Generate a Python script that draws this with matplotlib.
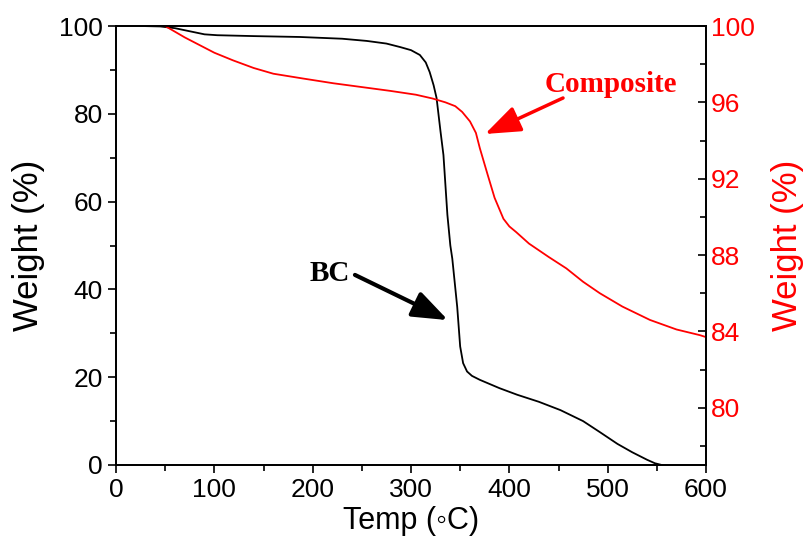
import matplotlib.pyplot as plt
from matplotlib.ticker import MultipleLocator

plt.rcParams['font.family'] = ['Liberation Sans', 'DejaVu Sans']

# BC curve (left axis)
bc_temp = [25, 45, 60, 75, 90, 103, 140, 187, 230, 255, 275, 289, 300, 309, 315, 319, 323,
           326, 330, 333, 337, 340, 342, 347, 350, 353, 357, 362, 370, 390, 408, 430, 452,
           475, 492, 510, 525, 540, 548, 555]
bc_weight = [100, 99.9, 99.5, 98.8, 98.1, 97.9, 97.7, 97.5, 97.1, 96.6, 96.0, 95.2, 94.5,
             93.4, 91.7, 89.5, 86.5, 83.6, 76, 70.6, 57, 50, 47, 36, 27, 23.2, 21.3, 20.3,
             19.4, 17.5, 16, 14.4, 12.5, 10, 7.5, 4.8, 2.9, 1.2, 0.4, 0]

# Composite curve (right axis)
comp_temp = [50, 60, 70, 85, 100, 119, 140, 160, 190, 221, 250, 279, 305, 322, 335, 345,
             352, 360, 366, 370, 374, 378, 385, 394, 400, 407, 420, 440, 458, 475, 492,
             515, 543, 570, 594, 600]
comp_weight = [100, 99.7, 99.4, 99.0, 98.6, 98.2, 97.8, 97.5, 97.25, 97.0, 96.8, 96.6, 96.4,
               96.2, 96.0, 95.8, 95.5, 95.0, 94.4, 93.6, 92.9, 92.2, 91.0, 89.9, 89.5,
               89.2, 88.6, 87.9, 87.3, 86.6, 86.0, 85.3, 84.6, 84.1, 83.8, 83.7]

fig = plt.figure(figsize=(8.04, 5.52), dpi=100)
ax = fig.add_axes([116 / 804, 87 / 552, 590 / 804, 439 / 552])
ax.plot(bc_temp, bc_weight, color='black', lw=1.3)
ax.set_xlim(0, 600)
ax.set_ylim(0, 100)
ax.xaxis.set_major_locator(MultipleLocator(100))
ax.xaxis.set_minor_locator(MultipleLocator(50))
ax.yaxis.set_major_locator(MultipleLocator(20))
ax.yaxis.set_minor_locator(MultipleLocator(10))
ax.tick_params(which='both', direction='out', width=1.2, labelsize=19)
ax.tick_params(which='major', length=6)
ax.tick_params(which='minor', length=4)
for s in ax.spines.values():
    s.set_linewidth(1.3)
ax.set_xlabel('Temp (\u25e6C)', fontsize=22, labelpad=3)
ax.set_ylabel('Weight (%)', fontsize=25, labelpad=10)

ax2 = ax.twinx()
ax2.plot(comp_temp, comp_weight, color='red', lw=1.3)
ax2.set_ylim(77, 100)
ax2.yaxis.set_major_locator(MultipleLocator(4))
ax2.yaxis.set_minor_locator(MultipleLocator(2))
ax2.tick_params(which='both', direction='in', width=1.2, labelsize=19, labelcolor='red')
ax2.tick_params(which='major', length=6)
ax2.tick_params(which='minor', length=4)
ax2.set_ylabel('Weight (%)', fontsize=25, color='red', labelpad=12)
for s in ax2.spines.values():
    s.set_linewidth(1.3)

serif = ['Liberation Serif', 'DejaVu Serif']
ax.text(503, 86.6, 'Composite', color='red', fontsize=21, fontweight='bold',
        family=serif, ha='center', va='center')
ax.annotate('', xy=(375.3, 75.4), xytext=(454.6, 83.6),
            arrowprops=dict(arrowstyle='-|>,head_length=1.2,head_width=0.45', color='red',
                            lw=2.5, mutation_scale=18, shrinkA=0, shrinkB=0))
ax.text(217.6, 43.7, 'BC', color='black', fontsize=21, fontweight='bold',
        family=serif, ha='center', va='center')
ax.annotate('', xy=(337.6, 33), xytext=(243, 43.3),
            arrowprops=dict(arrowstyle='-|>,head_length=1.2,head_width=0.45', color='black',
                            lw=3, mutation_scale=18, shrinkA=0, shrinkB=0))

fig.savefig('out.png', dpi=100)
